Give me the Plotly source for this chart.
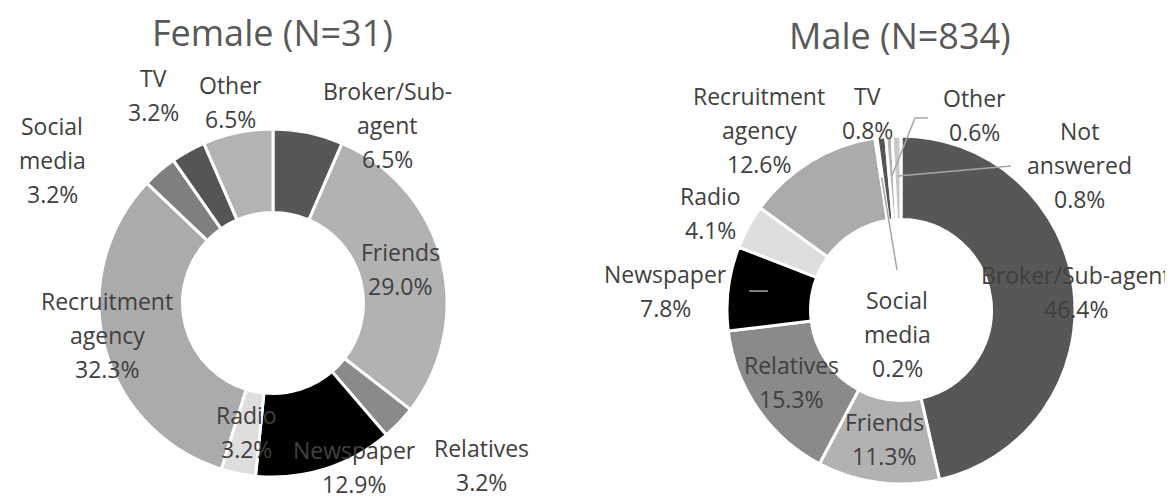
import math
import plotly.graph_objects as go

# ---------------- data ----------------
female_categories = ["Broker/Sub-agent", "Friends", "Relatives", "Newspaper", "Radio",
                     "Recruitment agency", "Social media", "TV", "Other"]
female_pct = [6.5, 29.0, 3.2, 12.9, 3.2, 32.3, 3.2, 3.2, 6.5]

male_categories = ["Broker/Sub-agent", "Friends", "Relatives", "Newspaper", "Radio",
                   "Recruitment agency", "Social media", "TV", "Other", "Not answered"]
male_pct = [46.4, 11.3, 15.3, 7.8, 4.1, 12.6, 0.2, 0.8, 0.6, 0.8]

female_title = "Female (N=31)"
male_title = "Male (N=834)"

# ---------------- styles ----------------
W, H = 1173, 504
colors = {
    "Broker/Sub-agent": "#575757",
    "Friends": "#b2b2b2",
    "Relatives": "#8a8a8a",
    "Newspaper": "#000000",
    "Radio": "#dedede",
    "Recruitment agency": "#ababab",
    "Social media": "#7f7f7f",
    "TV": "#555555",
    "Other": "#b3b3b3",
    "Not answered": "#c8c8c8",
}
FONT = "Open Sans"
LABEL_SIZE = 23
LINE_GAP = 34
TEXT_COLOR = "#404040"
LEADER_COLOR = "#a6a6a6"
DY = -7  # vertical correction for text placement

pies = {
    "female": dict(cx=265, cy=295, r=174, hole=0.52),
    "male": dict(cx=893, cy=302, r=174, hole=0.52),
}

# how category names are broken into lines in each chart
female_lines = {"Broker/Sub-agent": ["Broker/Sub-", "agent"],
                "Recruitment agency": ["Recruitment", "agency"],
                "Social media": ["Social", "media"]}
male_lines = {"Recruitment agency": ["Recruitment", "agency"],
              "Social media": ["Social", "media"],
              "Not answered": ["Not", "answered"]}

# pixel centre of first text line for each label
female_label_pos = {
    "Broker/Sub-agent": (379, 90), "Friends": (392, 251), "Relatives": (473, 447),
    "Newspaper": (346, 449), "Radio": (238, 414), "Recruitment agency": (99, 300),
    "Social media": (44, 125), "TV": (145, 77), "Other": (222, 84),
}
male_label_pos = {
    "Broker/Sub-agent": (1068, 274), "Friends": (876, 421), "Relatives": (783, 364),
    "Newspaper": (657, 273), "Radio": (702, 195), "Recruitment agency": (751, 95),
    "Social media": (889, 299), "TV": (859, 95), "Other": (966, 97),
    "Not answered": (1071, 130),
}
# leader lines: category -> (radius fraction of anchor on slice, label-side points)
male_leaders = {
    "Social media": (0.77, [(889, 262)]),
    "Other": (0.77, [(907, 110), (920, 110)]),
    "Not answered": (0.77, [(1003, 158)]),
}


def P(x, y):
    return x / W, 1 - y / H


def slice_point(values, idx, geom, frac):
    total = sum(values)
    start = sum(values[:idx]) / total
    mid = (start + values[idx] / total / 2) * 2 * math.pi
    rr = geom["r"] * frac
    return geom["cx"] + rr * math.sin(mid), geom["cy"] - rr * math.cos(mid)


fig = go.Figure()
for cats, vals, geom in [(female_categories, female_pct, pies["female"]),
                         (male_categories, male_pct, pies["male"])]:
    x0, y0 = P(geom["cx"] - geom["r"], geom["cy"] + geom["r"])
    x1, y1 = P(geom["cx"] + geom["r"], geom["cy"] - geom["r"])
    fig.add_trace(go.Pie(
        labels=cats, values=vals, sort=False, direction="clockwise", rotation=0,
        hole=geom["hole"], textinfo="none", showlegend=False,
        marker=dict(colors=[colors[c] for c in cats], line=dict(color="white", width=3)),
        domain=dict(x=[x0, x1], y=[y0, y1]),
    ))

annotations = []
shapes = []


def add_labels(cats, vals, lines_map, pos_map):
    for c, v in zip(cats, vals):
        lines = lines_map.get(c, [c]) + [f"{v:.1f}%"]
        x, y = pos_map[c]
        for i, ln in enumerate(lines):
            px, py = P(x, y + DY + i * LINE_GAP)
            annotations.append(dict(x=px, y=py, xref="paper", yref="paper", text=ln,
                                    showarrow=False, xanchor="center", yanchor="middle",
                                    font=dict(family=FONT, size=LABEL_SIZE, color=TEXT_COLOR)))


# leader lines first (drawn under text)
for c, (frac, pts) in male_leaders.items():
    idx = male_categories.index(c)
    ax, ay = slice_point(male_pct, idx, pies["male"], frac)
    path_pts = [(ax, ay)] + pts
    d = "M " + " L ".join(f"{P(x, y)[0]},{P(x, y)[1]}" for x, y in path_pts)
    shapes.append(dict(type="path", path=d, xref="paper", yref="paper",
                       line=dict(color=LEADER_COLOR, width=1.5)))
# small dash inside the Newspaper slice
idx = male_categories.index("Newspaper")
ax, ay = slice_point(male_pct, idx, pies["male"], 0.88)
nx0, ny0 = P(ax, ay)
nx1, ny1 = P(ax + 19, ay)
shapes.append(dict(type="line", x0=nx0, y0=ny0, x1=nx1, y1=ny1, xref="paper", yref="paper",
                   line=dict(color=LEADER_COLOR, width=1.5)))

add_labels(female_categories, female_pct, female_lines, female_label_pos)
add_labels(male_categories, male_pct, male_lines, male_label_pos)

for t, (x, y) in [(female_title, (264, 31)), (male_title, (892, 34))]:
    px, py = P(x, y + DY)
    annotations.append(dict(x=px, y=py, xref="paper", yref="paper", text=t, showarrow=False,
                            xanchor="center", yanchor="middle",
                            font=dict(family=FONT, size=36, color="#595959")))

fig.update_layout(width=W, height=H, margin=dict(l=0, r=0, t=0, b=0),
                  paper_bgcolor="white", plot_bgcolor="white",
                  annotations=annotations, shapes=shapes,
                  font=dict(family=FONT, color=TEXT_COLOR))

fig.write_html("out.html")
